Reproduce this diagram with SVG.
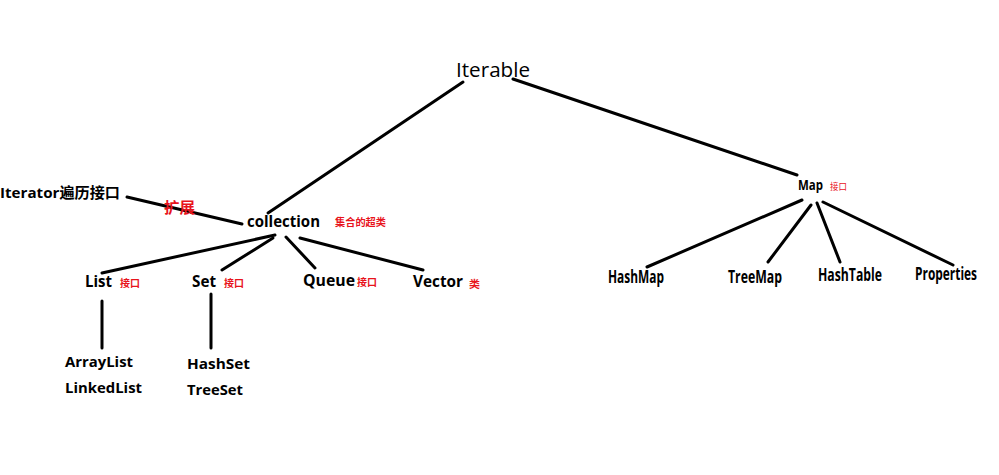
<svg xmlns="http://www.w3.org/2000/svg" width="999" height="475" viewBox="0 0 999 475">
<style>
.bg{fill:#ffffff}
.ln{stroke:#000;stroke-width:3;stroke-linecap:round;fill:none}
.t{font-family:"Open Sans","Noto Sans CJK SC",sans-serif;font-weight:bold;fill:#000;font-size:15px}
.tn{font-family:"Open Sans","Noto Sans CJK SC",sans-serif;font-weight:normal;fill:#000;font-size:20px}
.r{font-family:"Noto Sans CJK SC","Open Sans",sans-serif;font-weight:bold;fill:#e8141c;font-size:10px}
.rb{font-family:"Noto Sans CJK SC","Open Sans",sans-serif;font-weight:bold;fill:#e8141c;font-size:15px}
.c{font-family:"Open Sans","Noto Sans CJK SC",sans-serif;font-weight:bold;fill:#000;font-size:17px}
</style>
<rect class="bg" x="0" y="0" width="999" height="475"/>
<g id="connectors">
<line class="ln" x1="463" y1="82" x2="268" y2="213"/>
<line class="ln" x1="513" y1="79" x2="797" y2="175"/>
<line class="ln" x1="127" y1="197" x2="242" y2="224"/>
<line class="ln" x1="275" y1="235" x2="102" y2="273"/>
<line class="ln" x1="273" y1="238" x2="222" y2="270"/>
<line class="ln" x1="286" y1="237" x2="315" y2="268"/>
<line class="ln" x1="300" y1="238" x2="423" y2="270"/>
<line class="ln" x1="102" y1="301" x2="102" y2="348"/>
<line class="ln" x1="211" y1="294" x2="211" y2="348"/>
<line class="ln" x1="802" y1="200" x2="647" y2="267"/>
<line class="ln" x1="811" y1="205" x2="768" y2="262"/>
<line class="ln" x1="817" y1="203" x2="840" y2="262"/>
<line class="ln" x1="823" y1="202" x2="953" y2="265"/>
</g>
<g id="iterable"><text class="tn" x="456" y="77" textLength="74" lengthAdjust="spacingAndGlyphs">Iterable</text></g>
<g id="iterator"><text class="t" x="0" y="198" textLength="120" lengthAdjust="spacingAndGlyphs">Iterator遍历接口</text></g>
<g id="extend-label"><text class="rb" x="164" y="213" textLength="31" lengthAdjust="spacingAndGlyphs">扩展</text></g>
<g id="collection"><text class="t" x="247" y="227" textLength="73" lengthAdjust="spacingAndGlyphs" style="font-size:16px">collection</text><text class="r" x="335" y="226" textLength="51" lengthAdjust="spacingAndGlyphs">集合的超类</text></g>
<g id="list"><text class="t" x="85" y="287" textLength="27" lengthAdjust="spacingAndGlyphs" style="font-size:16px">List</text><text class="r" x="120" y="287" textLength="20" lengthAdjust="spacingAndGlyphs">接口</text></g>
<g id="set"><text class="t" x="192" y="287" textLength="24" lengthAdjust="spacingAndGlyphs" style="font-size:16px">Set</text><text class="r" x="224" y="287" textLength="20" lengthAdjust="spacingAndGlyphs">接口</text></g>
<g id="queue"><text class="t" x="303" y="286" textLength="52" lengthAdjust="spacingAndGlyphs" style="font-size:16px">Queue</text><text class="r" x="357" y="286" textLength="20" lengthAdjust="spacingAndGlyphs">接口</text></g>
<g id="vector"><text class="t" x="413" y="287" textLength="50" lengthAdjust="spacingAndGlyphs" style="font-size:16px">Vector</text><text class="r" x="469" y="288" textLength="11" lengthAdjust="spacingAndGlyphs">类</text></g>
<g id="lists"><text class="t" x="65" y="367" textLength="68" lengthAdjust="spacingAndGlyphs">ArrayList</text><text class="t" x="65" y="393" textLength="77" lengthAdjust="spacingAndGlyphs">LinkedList</text></g>
<g id="sets"><text class="t" x="187" y="369" textLength="63" lengthAdjust="spacingAndGlyphs">HashSet</text><text class="t" x="187" y="395" textLength="56" lengthAdjust="spacingAndGlyphs">TreeSet</text></g>
<g id="map"><text class="c" x="798" y="190" textLength="25" lengthAdjust="spacingAndGlyphs" style="font-size:15px">Map</text><text class="r" x="830" y="190" textLength="17" lengthAdjust="spacingAndGlyphs" style="font-size:9px;font-weight:normal">接口</text></g>
<g id="hashmap"><text class="c" x="608" y="283" textLength="56" lengthAdjust="spacingAndGlyphs">HashMap</text></g>
<g id="treemap"><text class="c" x="728" y="283" textLength="54" lengthAdjust="spacingAndGlyphs">TreeMap</text></g>
<g id="hashtable"><text class="c" x="818" y="281" textLength="64" lengthAdjust="spacingAndGlyphs">HashTable</text></g>
<g id="properties"><text class="c" x="915" y="280" textLength="62" lengthAdjust="spacingAndGlyphs">Properties</text></g>
</svg>
